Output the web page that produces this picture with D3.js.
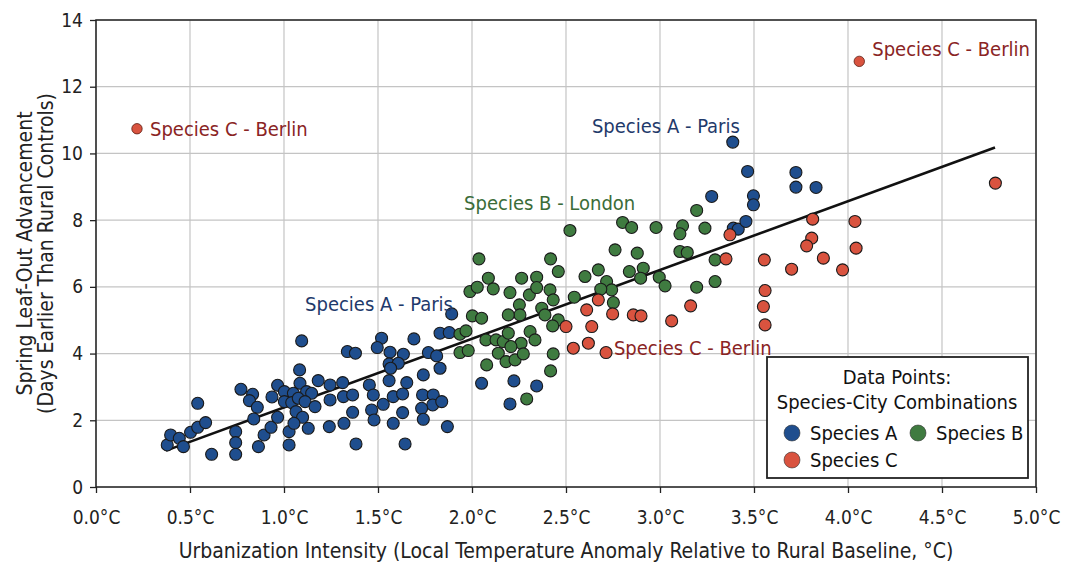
<!DOCTYPE html>
<html>
<head>
<meta charset="utf-8">
<script src="https://cdn.jsdelivr.net/npm/d3@7"></script>
<style>
  body { margin: 0; background: #fff; }
  svg text { font-family: "Liberation Sans Narrow", "DejaVu Sans Condensed", "Roboto", sans-serif; }
</style>
</head>
<body>
<svg id="chart" width="1067" height="567"></svg>
<script>
// species A (blue) - [urbanization, advancement]
var speciesA = [
  [0.379,1.26],[0.397,1.56],[0.443,1.46],[0.465,1.21],[0.503,1.64],[0.541,1.79],[0.583,1.93],
  [0.541,2.51],[0.615,0.98],[0.743,1.66],[0.743,1.33],[0.743,0.98],[0.771,2.93],[0.833,2.78],
  [0.816,2.59],[0.858,2.39],[0.839,2.04],[0.864,1.21],[0.894,1.56],[0.931,1.79],[0.966,2.09],
  [0.936,2.70],[0.966,3.05],[1.002,2.86],[1.002,2.56],[1.027,1.66],[1.027,1.26],
  [1.892,5.19],[1.094,4.38],[1.337,4.06],[1.380,4.01],[1.519,4.46],[1.496,4.18],[1.691,4.44],
  [1.830,4.61],[1.879,4.63],[1.564,4.04],[1.635,3.98],[1.768,4.03],[1.812,3.93],[1.559,3.69],
  [1.608,3.71],[1.567,3.56],[1.830,3.56],[1.083,3.51],[1.741,3.36],[1.182,3.19],[1.245,3.06],
  [1.312,3.13],[1.454,3.06],[1.559,3.19],[1.653,3.13],[1.050,2.81],[1.085,3.11],[1.120,2.86],
  [1.147,2.81],[1.041,2.53],[1.076,2.66],[1.112,2.56],[1.165,2.41],[1.245,2.61],[1.316,2.71],
  [1.365,2.76],[1.475,2.76],[1.528,2.48],[1.581,2.71],[1.631,2.79],[1.737,2.76],[1.794,2.76],
  [1.791,2.46],[1.839,2.56],[1.064,2.26],[1.099,2.09],[1.365,2.24],[1.466,2.31],[1.479,2.01],
  [1.631,2.23],[1.732,2.36],[1.741,2.03],[1.053,1.91],[1.129,1.76],[1.241,1.81],[1.319,1.91],
  [1.581,1.91],[1.869,1.81],[1.383,1.29],[1.644,1.29],
  [2.051,3.11],[2.223,3.18],[2.344,3.03],[2.202,2.49],
  [3.275,8.71],[3.497,8.73],[3.497,8.46],[3.723,8.99],[3.390,7.76],[3.416,7.73],[3.457,7.96],
  [3.387,10.34],[3.466,9.46],[3.723,9.43],[3.830,8.98]
]

// species B (green)
var speciesB = [
  [2.521,7.69],[2.801,7.93],[2.849,7.78],[2.037,6.84],[2.418,6.84],[2.761,7.11],[2.459,6.46],
  [2.264,6.26],[2.344,6.29],[2.087,6.26],[2.601,6.31],[2.672,6.51],[2.837,6.46],[1.989,5.86],
  [2.028,5.99],[2.113,5.94],[2.202,5.83],[2.305,5.76],[2.344,5.98],[2.415,5.91],[2.716,6.16],
  [2.743,5.91],[2.685,5.93],[2.752,5.53],[2.432,5.61],[2.252,5.46],[2.255,5.16],[2.371,5.36],
  [2.388,5.16],[2.544,5.69],[2.002,5.13],[2.051,5.06],[2.193,5.16],[2.459,5.01],[2.429,4.83],
  [1.936,4.58],[1.968,4.68],[2.074,4.41],[2.128,4.41],[2.166,4.36],[2.193,4.61],[2.309,4.66],
  [2.335,4.41],[2.261,4.31],[2.207,4.21],[1.936,4.03],[1.980,4.09],[2.140,4.01],[2.181,3.76],
  [2.229,3.81],[2.273,3.99],[2.432,3.99],[2.078,3.66],[2.418,3.48],[2.291,2.64],
  [2.979,7.78],[3.120,7.83],[3.106,7.59],[3.239,7.76],[2.879,7.01],[3.106,7.06],[3.145,7.03],
  [3.293,6.81],[2.911,6.56],[2.897,6.26],[2.996,6.29],[3.027,6.03],[3.195,5.99],[3.293,6.16],
  [3.195,8.29]
]

// species C (red)
var speciesC = [
  [2.672,5.61],[2.610,5.31],[2.748,5.19],[2.858,5.16],[2.500,4.81],[2.637,4.81],[2.539,4.16],
  [2.619,4.31],[2.713,4.03],[3.372,7.56],[3.351,6.84],[3.555,6.81],[3.700,6.53],[3.559,5.89],
  [3.550,5.41],[3.559,4.86],[3.163,5.43],[3.062,4.98],[2.899,5.13],[4.037,7.96],[4.043,7.16],
  [3.812,8.03],[3.807,7.46],[3.780,7.23],[3.869,6.86],[3.971,6.51],[4.784,9.11]
]

// labelled outliers (species C); ly = label baseline in data units
var outliers = [
  { x: 0.218, y: 10.74, ly: 10.53, label: "Species C - Berlin" },
  { x: 4.060, y: 12.76, ly: 12.93, label: "Species C - Berlin" }
]

// free-standing annotations (data units, text start / baseline)
var annotations = [
  { x: 2.638, y: 10.62, label: "Species A - Paris", color: "#1f3a6b" },
  { x: 1.958, y: 8.30, label: "Species B - London", color: "#3b6c38" },
  { x: 1.112, y: 5.28, label: "Species A - Paris", color: "#1f3a6b" },
  { x: 2.755, y: 3.96, label: "Species C - Berlin", color: "#8a2424" }
]

var trendX = [0.372, 4.782]
var trendY = [1.09, 10.18]

var xTicks = [0, 0.5, 1, 1.5, 2, 2.5, 3, 3.5, 4, 4.5, 5]
var yTicks = [0, 2, 4, 6, 8, 10, 12, 14]

var colA = "#1f4e8e", colB = "#3f7b40", colC = "#d9533f"

var width = 1067, height = 567
var margin = { top: 20, right: 31, bottom: 80, left: 96 }

var svg = d3.select("#chart")

var x = d3.scaleLinear().domain([0, 5]).range([margin.left, width - margin.right])
var y = d3.scaleLinear().domain([0, 14]).range([height - margin.bottom, margin.top])

// grid
svg.append("g").selectAll("line").data(xTicks).enter().append("line")
  .attr("x1", d => x(d)).attr("x2", d => x(d))
  .attr("y1", y(14)).attr("y2", y(0))
  .attr("stroke", "#c4c4c4").attr("stroke-width", 1.2)
svg.append("g").selectAll("line").data(yTicks).enter().append("line")
  .attr("x1", x(0)).attr("x2", x(5))
  .attr("y1", d => y(d)).attr("y2", d => y(d))
  .attr("stroke", "#c4c4c4").attr("stroke-width", 1.2)

// frame
svg.append("rect")
  .attr("x", x(0)).attr("y", y(14))
  .attr("width", x(5) - x(0)).attr("height", y(0) - y(14))
  .attr("fill", "none").attr("stroke", "#222").attr("stroke-width", 1.5)

// axes
var xAxis = svg.append("g")
  .attr("transform", `translate(0,${y(0)})`)
  .call(d3.axisBottom(x).tickValues(xTicks).tickSize(6).tickPadding(18)
    .tickFormat(d => d3.format(".1f")(d) + "°C"))
var yAxis = svg.append("g")
  .attr("transform", `translate(${x(0)},0)`)
  .call(d3.axisLeft(y).tickValues(yTicks).tickSize(6).tickPadding(7))

svg.selectAll(".domain").remove()
svg.selectAll(".tick line").attr("stroke", "#222").attr("stroke-width", 1.3)
svg.selectAll(".tick text").attr("fill", "#222").style("font-size", "19px")

// trend line
svg.append("line")
  .attr("x1", x(trendX[0])).attr("y1", y(trendY[0]))
  .attr("x2", x(trendX[1])).attr("y2", y(trendY[1]))
  .attr("stroke", "#111").attr("stroke-width", 2.6)

function dots(data, col) {
  svg.append("g").selectAll("circle").data(data).enter().append("circle")
    .attr("cx", d => x(d[0])).attr("cy", d => y(d[1]))
    .attr("r", 6)
    .attr("fill", col)
    .attr("stroke", "#1a1a1a").attr("stroke-width", 1.1)
}
dots(speciesA, colA)
dots(speciesB, colB)
dots(speciesC, colC)

// outliers
svg.append("g").selectAll("circle").data(outliers).enter().append("circle")
  .attr("cx", d => x(d.x)).attr("cy", d => y(d.y))
  .attr("r", 5.2).attr("fill", colC)
  .attr("stroke", "#5a1a10").attr("stroke-width", 0.8)
svg.append("g").selectAll("text").data(outliers).enter().append("text")
  .attr("x", d => x(d.x) + 13).attr("y", d => y(d.ly))
  .attr("fill", "#8a2424").style("font-size", "20px")
  .text(d => d.label)

svg.append("g").selectAll("text").data(annotations).enter().append("text")
  .attr("x", d => x(d.x)).attr("y", d => y(d.y))
  .attr("fill", d => d.color).style("font-size", "20px")
  .text(d => d.label)

// axis titles
svg.append("text")
  .attr("x", (x(0) + x(5)) / 2).attr("y", 558)
  .attr("text-anchor", "middle").attr("fill", "#222")
  .style("font-size", "21px")
  .text("Urbanization Intensity (Local Temperature Anomaly Relative to Rural Baseline, °C)")

var yTitle = svg.append("text")
  .attr("transform", `translate(0,${(y(0) + y(14)) / 2}) rotate(-90)`)
  .attr("text-anchor", "middle").attr("fill", "#222")
  .style("font-size", "21px")
yTitle.append("tspan").attr("x", 0).attr("y", 32).text("Spring Leaf-Out Advancement")
yTitle.append("tspan").attr("x", 0).attr("y", 53).text("(Days Earlier Than Rural Controls)")

// legend
var legend = svg.append("g").attr("transform", "translate(767,357)")
legend.append("rect")
  .attr("width", 261).attr("height", 121)
  .attr("fill", "#fff").attr("stroke", "#222").attr("stroke-width", 1.8)
legend.append("text").attr("x", 130).attr("y", 27).attr("text-anchor", "middle")
  .attr("fill", "#111").style("font-size", "20px").text("Data Points:")
legend.append("text").attr("x", 130).attr("y", 52).attr("text-anchor", "middle")
  .attr("fill", "#111").style("font-size", "20px").text("Species-City Combinations")

var legendItems = [
  { label: "Species A", color: colA, dx: 25, dy: 76 },
  { label: "Species B", color: colB, dx: 151, dy: 76 },
  { label: "Species C", color: colC, dx: 25, dy: 103 }
]
var li = legend.selectAll(".li").data(legendItems).enter().append("g")
  .attr("class", "li")
  .attr("transform", d => `translate(${d.dx},${d.dy})`)
li.append("circle").attr("r", 8).attr("fill", d => d.color)
  .attr("stroke", "#333").attr("stroke-width", 0.6)
li.append("text").attr("x", 18).attr("y", 7)
  .attr("fill", "#111").style("font-size", "20px")
  .text(d => d.label)
</script>
</body>
</html>
